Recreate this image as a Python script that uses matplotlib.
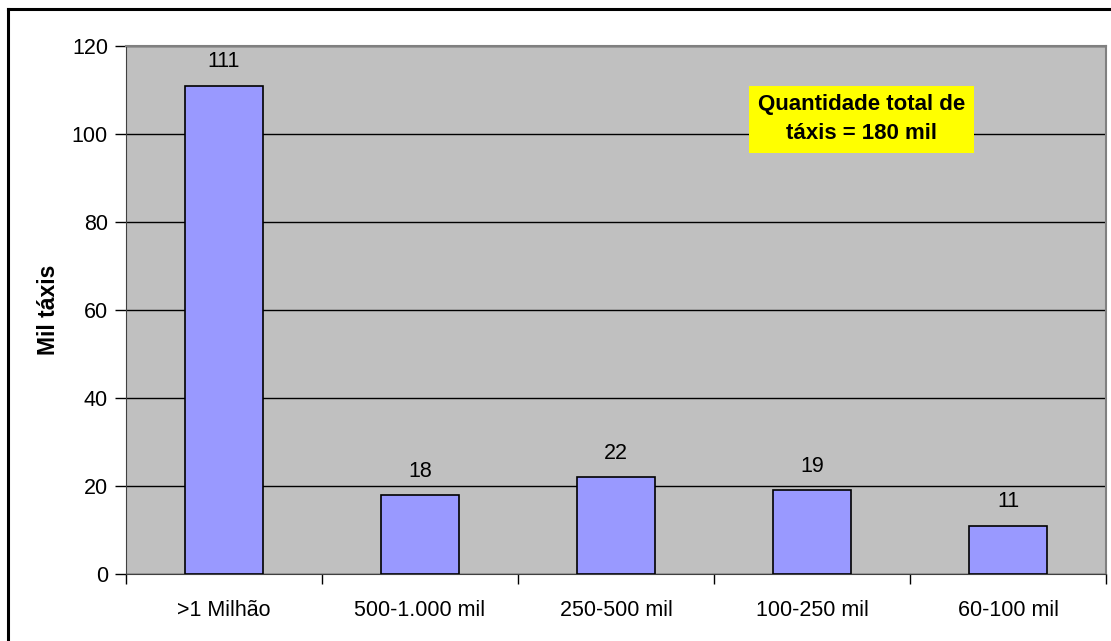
import numpy as np
import matplotlib.pyplot as plt
from matplotlib.lines import Line2D

plt.rcParams['font.family'] = ['Liberation Sans', 'DejaVu Sans']

# categories and values (mil táxis)
faixas = [">1 Milhão", "500-1.000 mil", "250-500 mil", "100-250 mil", "60-100 mil"]
taxis = [111, 18, 22, 19, 11]

fig = plt.figure(figsize=(11.11, 6.41), dpi=100)
ax = fig.add_axes([126/1111, 1 - 574/641, 980/1111, (574 - 46)/641])
ax.set_facecolor('#C0C0C0')

x = np.arange(len(faixas))
bars = ax.bar(x, taxis, width=0.4, color='#9999FF', edgecolor='black', linewidth=1.2, zorder=3)
for xi, v in zip(x, taxis):
    ax.text(xi, v + 3.0, str(v), ha='center', va='bottom', fontsize=15.5, zorder=4)

ax.set_xlim(-0.5, len(faixas) - 0.5)
ax.set_ylim(0, 120)
ax.set_yticks(range(0, 121, 20))
ax.tick_params(axis='y', labelsize=15.5, length=8, width=1, pad=5, direction='out')
ax.set_xticks(x)
ax.set_xticklabels(faixas, fontsize=15.5)
ax.tick_params(axis='x', length=0, pad=18.5)
# category boundary ticks
ax.set_xticks(np.arange(-0.5, len(faixas)), minor=True)
ax.tick_params(axis='x', which='minor', length=7, width=1, direction='out')
ax.yaxis.grid(True, color='black', linewidth=1, zorder=1)
ax.set_axisbelow(True)

ax.spines['left'].set_color('#404040')
ax.spines['bottom'].set_color('#404040')
ax.spines['top'].set_color('#808080')
ax.spines['right'].set_color('#808080')
ax.spines['top'].set_linewidth(1.5)
ax.spines['right'].set_linewidth(1.5)

ax.set_ylabel('Mil táxis', fontsize=16.5, fontweight='bold', labelpad=8.5)

ax.text(0.751, 0.861, 'Quantidade total de\ntáxis = 180 mil', transform=ax.transAxes,
        ha='center', va='center', fontsize=16, fontweight='bold', linespacing=1.5,
        bbox=dict(boxstyle='square,pad=0.4', facecolor='yellow', edgecolor='none'), zorder=5)

# outer chart border (top and left visible)
fig.add_artist(Line2D([8/1111, 1], [1 - 9/641, 1 - 9/641], color='black', linewidth=2.2, transform=fig.transFigure))
fig.add_artist(Line2D([8/1111, 8/1111], [0, 1 - 9/641], color='black', linewidth=2.2, transform=fig.transFigure))

fig.savefig('out.png', dpi=100)
